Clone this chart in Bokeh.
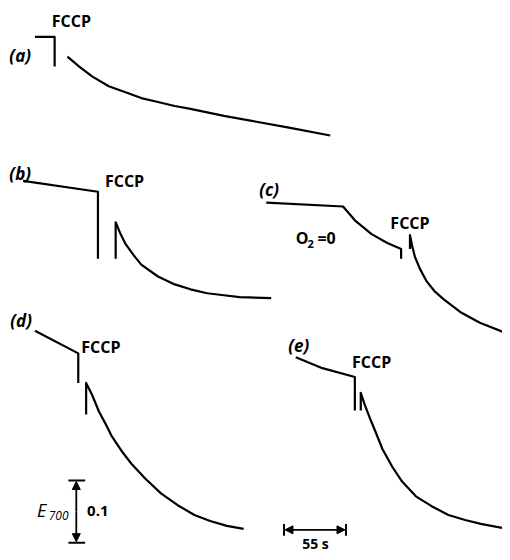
from bokeh.plotting import figure
from bokeh.models import Range1d, Arrow, NormalHead
from bokeh.core.properties import value
from bokeh.embed import file_html
from bokeh.resources import INLINE

# ---- data: trace points in the figure's own (time, absorbance) drawing units ----
a_pre_x = [35, 55, 55]
a_pre_y = [37, 37, 67]
a_post_x = [68, 80, 93, 110, 127, 143, 160, 177, 193, 227, 260, 293, 335]
a_post_y = [57, 67, 77, 87, 93, 99, 103, 107, 110, 117, 123, 129, 137]

b_pre_x = [23, 99, 99]
b_pre_y = [183, 194, 262]
b_post_x = [117, 117, 122, 127, 135, 143, 160, 177, 193, 210, 227, 243, 275]
b_post_y = [262, 225, 237, 247, 258, 268, 280, 288, 293, 297, 299, 301, 302]

c_pre_x = [270, 348, 360, 377, 393, 407, 407]
c_pre_y = [205, 209, 223, 237, 246, 252, 262]
c_post_x = [416, 416, 418, 421, 426, 433, 441, 450, 467, 487, 510]
c_post_y = [252, 238, 248, 260, 272, 285, 295, 303, 316, 327, 336]

d_pre_x = [35, 79, 79]
d_pre_y = [335, 358, 388]
d_post_x = [87, 87, 93, 100, 107, 113, 123, 133, 147, 163, 180, 197, 213, 230, 247]
d_post_y = [420, 388, 400, 417, 430, 442, 457, 470, 485, 500, 512, 522, 528, 533, 536]

e_pre_x = [300, 327, 360, 360]
e_pre_y = [362, 373, 382, 416]
e_post_x = [366, 366, 370, 375, 382, 388, 398, 408, 422, 438, 455, 472, 488, 510]
e_post_y = [416, 398, 410, 423, 440, 455, 473, 488, 503, 513, 522, 527, 531, 535]

panel_labels = ["(a)", "(b)", "(c)", "(d)", "(e)"]
panel_label_x = [20, 20, 273, 21, 303]
panel_label_y = [56, 175, 192, 325, 350]

fccp_x = [72, 126, 416, 102, 377]
fccp_y = [21, 183, 226, 352, 367]

# scale bars
e_bar_x = 77
e_bar_y0, e_bar_y1 = 487, 550
t_bar_y = 537
t_bar_x0, t_bar_x1 = 288, 351

p = figure(width=502, height=552, output_backend="svg", toolbar_location=None,
           x_range=Range1d(0, 510), y_range=Range1d(560, 0),
           min_border=0, min_border_left=0, min_border_right=0,
           min_border_top=0, min_border_bottom=0)
p.xaxis.visible = False
p.yaxis.visible = False
p.grid.visible = False
p.outline_line_color = None
p.background_fill_color = "white"
p.border_fill_color = "white"

LW = 2.2
for xs, ys in [(a_pre_x, a_pre_y), (a_post_x, a_post_y),
               (b_pre_x, b_pre_y), (b_post_x, b_post_y),
               (c_pre_x, c_pre_y), (c_post_x, c_post_y),
               (d_pre_x, d_pre_y), (d_post_x, d_post_y),
               (e_pre_x, e_pre_y), (e_post_x, e_post_y)]:
    p.line(xs, ys, line_color="black", line_width=LW, line_join="round", line_cap="butt")

font = value("Open Sans")
p.text(x=panel_label_x, y=panel_label_y, text=panel_labels, text_font=font,
       text_font_size="17px", text_font_style="bold italic", text_align="center",
       text_baseline="middle", text_color="black")
p.text(x=fccp_x, y=fccp_y, text=["FCCP"] * len(fccp_x), text_font=font,
       text_font_size="16px", text_font_style="bold", text_align="center",
       text_baseline="middle", text_color="black")

# O2 = 0
p.text(x=[300], y=[241], text=["O"], text_font=font, text_font_size="16px",
       text_font_style="bold", text_align="left", text_baseline="middle", text_color="black")
p.text(x=[312], y=[247], text=["2"], text_font=font, text_font_size="11px",
       text_font_style="bold", text_align="left", text_baseline="middle", text_color="black")
p.text(x=[322], y=[241], text=["=0"], text_font=font, text_font_size="16px",
       text_font_style="bold", text_align="left", text_baseline="middle", text_color="black")

# vertical scale bar E700 0.1
p.segment(x0=[e_bar_x - 8, e_bar_x - 8], y0=[e_bar_y0, e_bar_y1],
          x1=[e_bar_x + 9, e_bar_x + 9], y1=[e_bar_y0, e_bar_y1],
          line_color="black", line_width=2)
p.add_layout(Arrow(x_start=e_bar_x, y_start=(e_bar_y0 + e_bar_y1) / 2, x_end=e_bar_x, y_end=e_bar_y0 + 1,
                   line_width=1.8, end=NormalHead(size=8, fill_color="black", line_color="black")))
p.add_layout(Arrow(x_start=e_bar_x, y_start=(e_bar_y0 + e_bar_y1) / 2, x_end=e_bar_x, y_end=e_bar_y1 - 1,
                   line_width=1.8, end=NormalHead(size=8, fill_color="black", line_color="black")))
p.text(x=[37], y=[517], text=["E"], text_font=font, text_font_size="18px",
       text_font_style="italic", text_align="left", text_baseline="middle", text_color="black")
p.text(x=[49], y=[522], text=["700"], text_font=font, text_font_size="12px",
       text_font_style="italic", text_align="left", text_baseline="middle", text_color="black")
p.text(x=[88], y=[518], text=["0.1"], text_font=font, text_font_size="15px",
       text_font_style="bold", text_align="left", text_baseline="middle", text_color="black")

# horizontal scale bar 55 s
p.segment(x0=[t_bar_x0, t_bar_x1], y0=[t_bar_y - 6, t_bar_y - 6],
          x1=[t_bar_x0, t_bar_x1], y1=[t_bar_y + 6, t_bar_y + 6],
          line_color="black", line_width=2)
p.add_layout(Arrow(x_start=(t_bar_x0 + t_bar_x1) / 2, y_start=t_bar_y, x_end=t_bar_x0 + 1, y_end=t_bar_y,
                   line_width=1.8, end=NormalHead(size=8, fill_color="black", line_color="black")))
p.add_layout(Arrow(x_start=(t_bar_x0 + t_bar_x1) / 2, y_start=t_bar_y, x_end=t_bar_x1 - 1, y_end=t_bar_y,
                   line_width=1.8, end=NormalHead(size=8, fill_color="black", line_color="black")))
p.text(x=[320], y=[551], text=["55 s"], text_font=font, text_font_size="14px",
       text_font_style="bold", text_align="center", text_baseline="middle", text_color="black")

open("out.html", "w").write(file_html(p, INLINE))
